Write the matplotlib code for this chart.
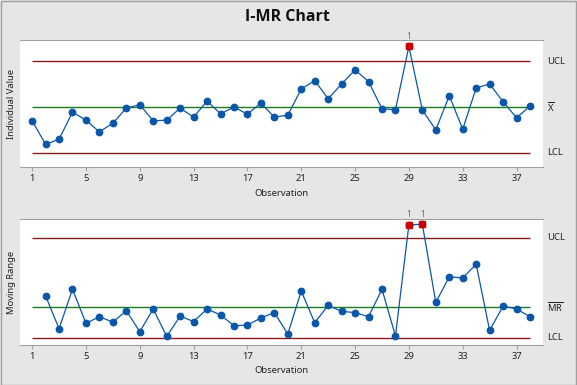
import matplotlib
matplotlib.use("Agg")
import matplotlib.pyplot as plt
import numpy as np

plt.rcParams['font.family'] = ['Noto Sans', 'DejaVu Sans']
plt.rcParams['mathtext.fontset'] = 'custom'
plt.rcParams['mathtext.rm'] = 'Noto Sans'

obs = np.arange(1, 39)
values = [46.1, 39.1, 40.6, 48.7, 46.3, 42.8, 45.4, 49.9, 50.9, 46.1,
          46.3, 49.9, 47.2, 52.0, 48.2, 50.2, 48.1, 51.4, 47.2, 47.8,
          55.6, 58.1, 52.7, 57.1, 61.3, 57.8, 49.7, 49.4, 68.3, 49.3,
          43.4, 53.6, 43.6, 55.9, 57.1, 51.8, 47.0, 50.5]
# moving ranges (obs 2..38)
mr_obs = np.arange(2, 39)
mr = [7.0, 1.5, 8.1, 2.4, 3.5, 2.6, 4.5, 1.0, 4.8, 0.2,
      3.6, 2.7, 4.8, 3.8, 2.0, 2.1, 3.3, 4.2, 0.6, 7.8,
      2.5, 5.4, 4.4, 4.2, 3.5, 8.1, 0.3, 18.9, 19.0, 5.9,
      10.2, 10.0, 12.3, 1.2, 5.3, 4.8, 3.5]
ticks = [1, 5, 9, 13, 17, 21, 25, 29, 33, 37]

values = np.array(values)
mr = np.array(mr)
x_bar = values.mean()
mr_bar = mr.mean()
i_ucl, i_lcl = x_bar + 2.66 * mr_bar, x_bar - 2.66 * mr_bar
mr_ucl, mr_lcl = 3.267 * mr_bar, 0.0

blue = '#0A56A8'
red = '#CC0000'
limit_col = '#8E1B1B'
center_col = '#1E7A1E'
txt = '#222222'
spine = '#A0A0A0'
fs = 6.8

fig = plt.figure(figsize=(5.77, 3.85), dpi=100, facecolor='#E6E6E6')
fig.patches.append(plt.Rectangle((0.001, 0.001), 0.997, 0.997, transform=fig.transFigure,
                                 fill=False, edgecolor=spine, lw=1))
fig.text(0.499, 0.955, 'I-MR Chart', ha='center', va='center', fontsize=11.5,
         fontweight='bold', family=['Open Sans', 'DejaVu Sans'], color='#111111')


def panel(rect, x, y, lo, hi, center, ylim, ylabel, center_label):
    ax = fig.add_axes(rect)
    ax.set_facecolor('white')
    for s in ['left', 'right']:
        ax.spines[s].set_visible(False)
    for s in ['top', 'bottom']:
        ax.spines[s].set_color(spine)
    ax.hlines([hi, lo], 1, 38, color=limit_col, lw=1)
    ax.hlines(center, 1, 38, color=center_col, lw=1)
    ax.plot(x, y, color=blue, lw=0.9, marker='o', ms=4.6, zorder=3)
    out = (y > hi) | (y < lo)
    ax.plot(x[out], y[out], ls='none', marker='s', ms=4.8, color=red, zorder=4)
    for xi, yi in zip(x[out], y[out]):
        ax.annotate('1', (xi, yi), xytext=(0, 4), textcoords='offset points',
                    ha='center', va='bottom', fontsize=6, color='#7F6A3A')
    ax.set_xlim(0.1, 38.95)
    ax.set_ylim(*ylim)
    ax.set_yticks([])
    ax.set_xticks(ticks)
    ax.tick_params(axis='x', length=3, color=spine, labelsize=fs, labelcolor=txt, pad=2)
    ax.set_xlabel('Observation', fontsize=fs, color=txt, labelpad=4)
    ax.set_ylabel(ylabel, fontsize=fs, color=txt, labelpad=3)
    for val, lab in [(hi, 'UCL'), (center, center_label), (lo, 'LCL')]:
        ax.annotate(lab, (1.0, val), xycoords=('axes fraction', 'data'),
                    xytext=(3, 0), textcoords='offset points',
                    va='center', ha='left', fontsize=fs, color=txt, annotation_clip=False)
    return ax


panel([0.0347, 0.566, 0.906, 0.330], obs, values, i_lcl, i_ucl, x_bar,
      (32.3, 70.2), 'Individual Value', r'$\overline{\mathrm{X}}$')
panel([0.0347, 0.104, 0.906, 0.327], mr_obs, mr, mr_lcl, mr_ucl, mr_bar,
      (-1.23, 19.87), 'Moving Range', r'$\overline{\mathrm{MR}}$')

fig.savefig('out.png', dpi=100, facecolor=fig.get_facecolor())
